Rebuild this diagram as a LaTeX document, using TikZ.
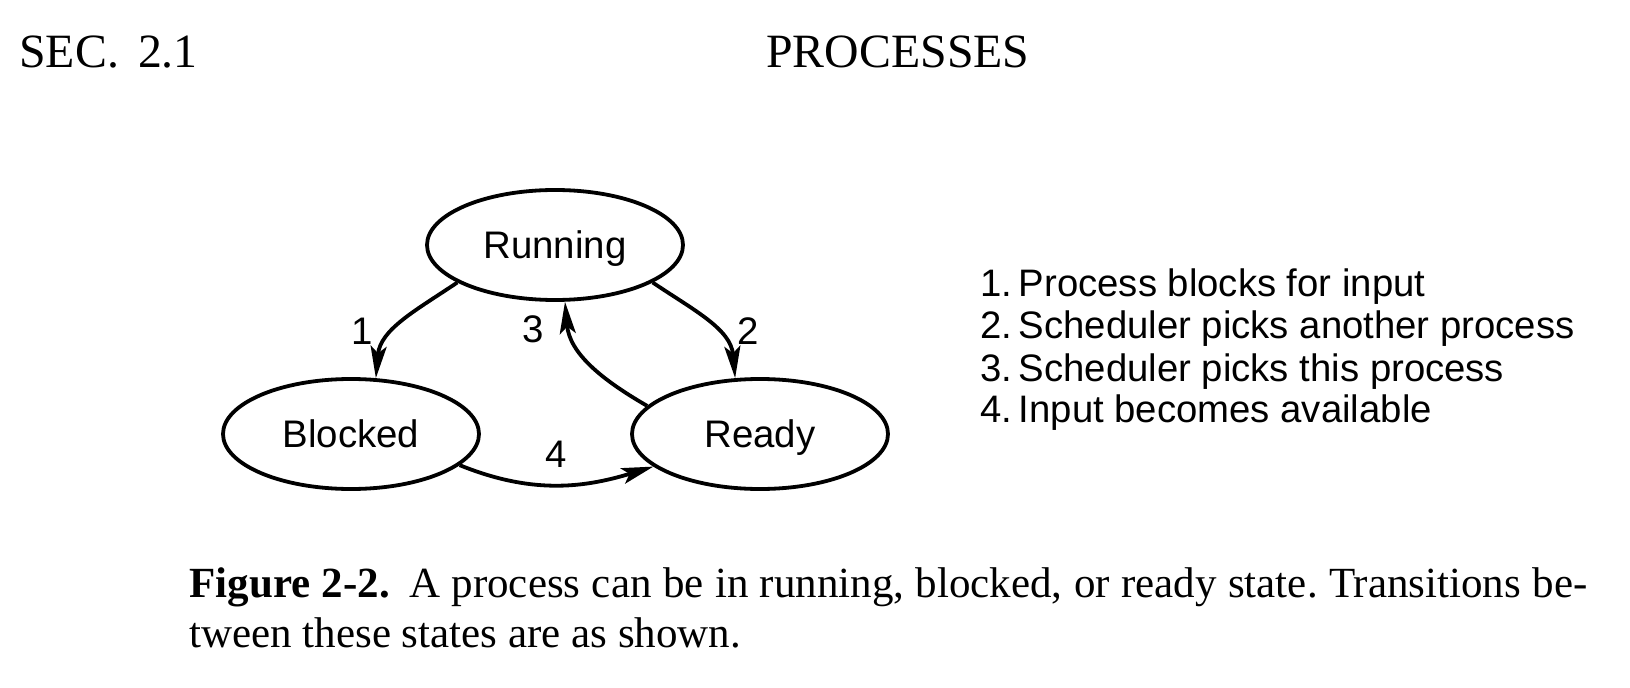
\documentclass[tikz,border=0pt]{standalone}
\usepackage{fontspec}
\setmainfont{Liberation Serif}
\newfontfamily\arialfont{Liberation Sans}
\usetikzlibrary{arrows.meta,shapes.geometric}
\frenchspacing
\begin{document}
\begin{tikzpicture}[x=0.5pt,y=0.5pt,
  state/.style={ellipse,draw,line width=1.9pt,minimum width=128pt,minimum height=55pt,inner sep=0pt,
    font=\arialfont\fontsize{19.2}{21}\selectfont,text height=13.7pt,text depth=0pt},
  trans/.style={line width=1.9pt,-{Stealth[length=16pt,width=8pt,inset=3.5pt]}},
  lbl/.style={font=\arialfont\fontsize{19.2}{21}\selectfont,inner sep=0pt},
  legend/.style={anchor=base west,inner sep=0pt,font=\arialfont\fontsize{19.15}{21}\selectfont},
  head/.style={anchor=base west,inner sep=0pt,font=\fontsize{23.9}{28}\selectfont},
  captxt/.style={anchor=base west,inner sep=0pt,font=\fontsize{21.5}{26}\selectfont}]
\useasboundingbox (0,0) rectangle (1630,687);

% header
\node[head] (sec) at (19,619) {SEC.\hspace{0.4em}2.1};
\node[head] (proc) at (766,619) {PROCESSES};

% states
\node[state] (run) at (555,442) {Running};
\node[state] (blk) at (351,253) {Blocked};
\node[state] (rdy) at (760,253) {Ready};

% transitions
\draw[trans] (run.201) to[out=214,in=85] (blk.66);
\draw[trans] (run.-21) to[out=-34,in=95] (rdy.114);
\draw[trans] (rdy.166) to[out=150,in=-85] (run.280);
\draw[trans] (blk.-16) to[out=-22,in=197] (rdy.197);

% transition labels
\node[lbl] (n1) at (362,356) {1};
\node[lbl] (n2) at (748,356) {2};
\node[lbl] (n3) at (533,358) {3};
\node[lbl] (n4) at (556,233) {4};

% legend
\node[legend] (l1) at (980,391) {1.\hspace{0.17em}Process blocks for input};
\node[legend] (l2) at (980,349) {2.\hspace{0.17em}Scheduler picks another process};
\node[legend] (l3) at (980,306) {3.\hspace{0.17em}Scheduler picks this process};
\node[legend] (l4) at (980,264) {4.\hspace{0.17em}Input becomes available};

% caption
\node[captxt] (c1) at (189,90) {\makebox[699pt][s]{\textbf{Figure 2-2.}\hspace{0.45em}A process can be in running, blocked, or ready state. Transitions be-}};
\node[captxt] (c2) at (189,40) {tween these states are as shown.};
\end{tikzpicture}
\end{document}
